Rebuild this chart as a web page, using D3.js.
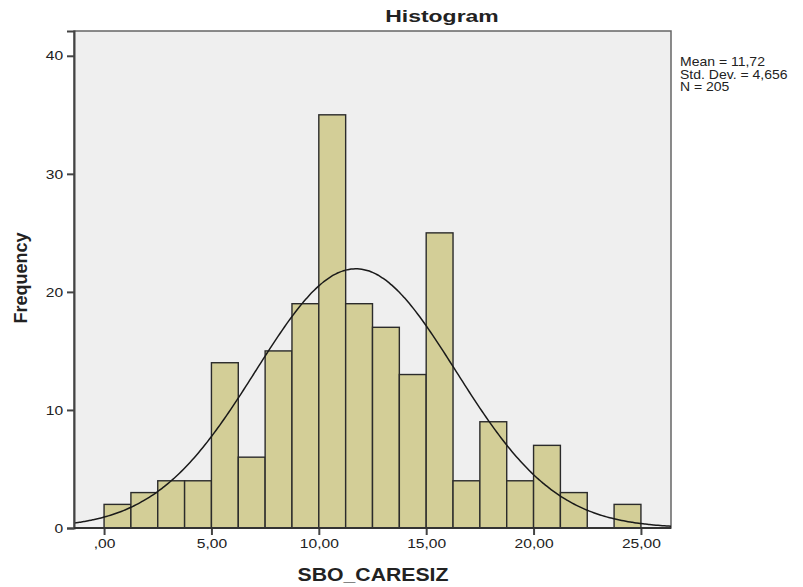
<!DOCTYPE html>
<html>
<head>
<meta charset="utf-8">
<script src="https://cdn.jsdelivr.net/npm/d3@7"></script>
<style>
  body { margin: 0; background: #fff; }
  text { font-family: Arial, "Liberation Sans", sans-serif; fill: #222; }
  .bar { fill: #d3ce97; stroke: #2b2b2b; stroke-width: 1.4; }
  .tick text { font-size: 13px; }
  .title { font-size: 17px; font-weight: bold; }
  .axis-label { font-size: 18px; font-weight: bold; }
  .stats { font-size: 12.5px; }
</style>
</head>
<body>
<svg width="803" height="587"></svg>
<script>
// bin edges (start of each bin), width 1.25
const binStarts = [0, 1.25, 2.5, 3.75, 5, 6.25, 7.5, 8.75, 10, 11.25, 12.5, 13.75, 15, 16.25, 17.5, 18.75, 20, 21.25, 22.5, 23.75];
const counts = [2, 3, 4, 4, 14, 6, 15, 19, 35, 19, 17, 13, 25, 4, 9, 4, 7, 3, 0, 2];
const binWidth = 1.25;
const xTicks = [0, 5, 10, 15, 20, 25];
const xTickLabels = [",00", "5,00", "10,00", "15,00", "20,00", "25,00"];
const yTicks = [0, 10, 20, 30, 40];
const statLines = ["Mean = 11,72", "Std. Dev. = 4,656", "N = 205"];
const mean = 11.72, sd = 4.656, n = 205;

// the original's text is a little wider than Arial
const stretch = 1.2;

const svg = d3.select("svg"),
      margin = { top: 31, right: 132, bottom: 59, left: 74 },
      width = +svg.attr("width") - margin.left - margin.right,
      height = +svg.attr("height") - margin.top - margin.bottom;

const chart = svg.append("g")
    .attr("transform", `translate(${margin.left},${margin.top})`);

const x = d3.scaleLinear().domain([-1.4, 26.4]).range([0, width]);
const y = d3.scaleLinear().domain([0, 42.1]).range([height, 0]);

chart.append("rect")
    .attr("width", width)
    .attr("height", height)
    .attr("fill", "#efefef")
    .attr("stroke", "#666")
    .attr("stroke-width", 1.5);

const bins = binStarts.map((s, i) => ({ x0: s, x1: s + binWidth, count: counts[i] }))
    .filter(d => d.count > 0);

chart.selectAll("rect.bar")
  .data(bins)
  .enter()
  .append("rect")
  .attr("class", "bar")
  .attr("x", d => x(d.x0))
  .attr("y", d => y(d.count))
  .attr("width", d => x(d.x1) - x(d.x0))
  .attr("height", d => y(0) - y(d.count));

// normal curve from the reported mean / sd / N
const pdf = v => n * binWidth * Math.exp(-0.5 * ((v - mean) / sd) ** 2) / (sd * Math.sqrt(2 * Math.PI));
const curveXs = d3.range(-1.4, 26.41, 0.1);
chart.append("path")
    .datum(curveXs)
    .attr("fill", "none")
    .attr("stroke", "#1a1a1a")
    .attr("stroke-width", 1.5)
    .attr("d", d3.line().x(d => x(d)).y(d => y(pdf(d))).curve(d3.curveBasis));

const xAxis = chart.append("g")
    .attr("transform", `translate(0,${height})`)
    .call(d3.axisBottom(x).tickValues(xTicks).tickSize(7).tickPadding(4)
      .tickFormat((d, i) => xTickLabels[i]));
const yAxis = chart.append("g")
    .call(d3.axisLeft(y).tickValues(yTicks).tickSize(7).tickPadding(2));

[xAxis, yAxis].forEach(a => {
  a.select(".domain").attr("stroke", "#444").attr("stroke-width", 2);
  a.selectAll(".tick line").attr("stroke", "#444").attr("stroke-width", 2);
  a.selectAll(".tick text").attr("transform", `scale(${stretch},1)`);
});
xAxis.select(".domain").remove();
chart.append("line")
    .attr("x1", 0).attr("x2", width)
    .attr("y1", height).attr("y2", height)
    .attr("stroke", "#333").attr("stroke-width", 2);

svg.append("text")
    .attr("class", "title")
    .attr("transform", `translate(442,22) scale(1.35,1)`)
    .attr("text-anchor", "middle")
    .text("Histogram");

svg.append("text")
    .attr("class", "axis-label")
    .attr("transform", `translate(373,581) scale(1.18,1)`)
    .attr("text-anchor", "middle")
    .text("SBO_CARESIZ");

svg.append("text")
    .attr("class", "axis-label")
    .attr("transform", "rotate(-90)")
    .attr("x", -278)
    .attr("y", 27)
    .attr("text-anchor", "middle")
    .text("Frequency");

svg.append("g").selectAll("text")
  .data(statLines)
  .enter()
  .append("text")
  .attr("class", "stats")
  .attr("transform", (d, i) => `translate(680,${66 + i * 12.7}) scale(1.12,1)`)
  .text(d => d);
</script>
</body>
</html>
